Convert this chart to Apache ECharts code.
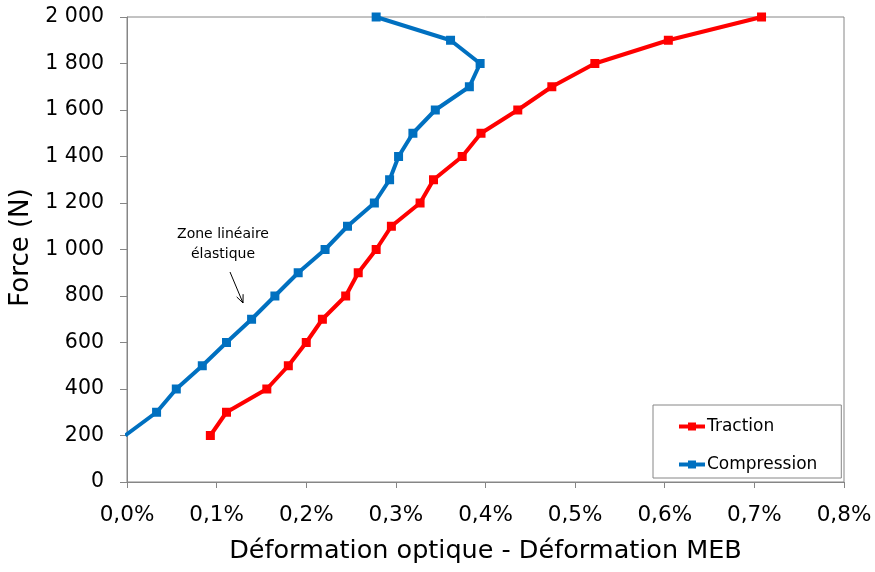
<!DOCTYPE html>
<html>
<head>
<meta charset="utf-8">
<script src="https://cdn.jsdelivr.net/npm/echarts@6/dist/echarts.min.js"></script>
<style>
    html, body { margin: 0; padding: 0; background: #fff; }
    #chart { width: 875px; height: 572px; }
</style>
</head>
<body>
<div id="chart"></div>
<script>
// Force (N) for each point, same list for both curves
var forces = [200, 300, 400, 500, 600, 700, 800, 900, 1000, 1100,
              1200, 1300, 1400, 1500, 1600, 1700, 1800, 1900, 2000];

// deformation difference in %
var traction = [0.093, 0.111, 0.156, 0.180, 0.200, 0.218, 0.244, 0.258, 0.278, 0.295,
                0.327, 0.342, 0.374, 0.395, 0.436, 0.474, 0.522, 0.604, 0.708];
var compression = [-0.002, 0.033, 0.055, 0.084, 0.111, 0.139, 0.165, 0.191, 0.221, 0.246,
                   0.276, 0.293, 0.303, 0.319, 0.344, 0.382, 0.394, 0.361, 0.278];

var seriesNames = ['Traction', 'Compression'];
var seriesColors = ['#ff0000', '#0070c0'];

function pairs(xs) {
    return xs.map(function (x, i) { return [x, forces[i]]; });
}

var axisColor = '#868686';
var font = 'DejaVu Sans';

var option = {
    backgroundColor: '#fff',
    animation: false,
    textStyle: { fontFamily: font, color: '#000' },
    grid: {
        left: 127, right: 31, top: 17, bottom: 90,
        show: true,
        borderColor: axisColor,
        borderWidth: 1
    },
    legend: {
        orient: 'vertical',
        left: 653,
        top: 405,
        padding: [13, 24, 5, 24],
        itemGap: 21,
        itemWidth: 26,
        itemHeight: 10,
        borderColor: axisColor,
        borderWidth: 1,
        backgroundColor: '#fff',
        lineStyle: { width: 4 },
        textStyle: { fontFamily: font, fontSize: 17, color: '#000', padding: [0, 0, 0, -3] },
        data: seriesNames
    },
    xAxis: {
        type: 'value',
        min: 0,
        max: 0.8,
        interval: 0.1,
        name: 'Déformation optique - Déformation MEB',
        nameLocation: 'middle',
        nameGap: 56,
        nameTextStyle: { fontFamily: font, fontSize: 25.5, color: '#000' },
        axisLine: { show: true, lineStyle: { color: axisColor, width: 1 } },
        axisTick: { show: true, length: 6, lineStyle: { color: axisColor } },
        splitLine: { show: false },
        axisLabel: {
            margin: 22,
            fontSize: 21.5,
            color: '#000',
            formatter: function (v) { return v.toFixed(1).replace('.', ',') + '%'; }
        }
    },
    yAxis: {
        type: 'value',
        min: 0,
        max: 2000,
        interval: 200,
        name: 'Force (N)',
        nameLocation: 'middle',
        nameGap: 88,
        nameTextStyle: { fontFamily: font, fontSize: 26, color: '#000', padding: [0, 0, 0, 4] },
        axisLine: { show: true, lineStyle: { color: axisColor, width: 1 } },
        axisTick: { show: true, length: 7, lineStyle: { color: axisColor } },
        splitLine: { show: false },
        axisLabel: {
            margin: 23,
            fontSize: 20.5,
            color: '#000',
            formatter: function (v) {
                return String(v).replace(/\B(?=(\d{3})+(?!\d))/g, ' ');
            }
        }
    },
    series: [0, 1].map(function (k) {
        return {
            name: seriesNames[k],
            type: 'line',
            data: pairs(k === 0 ? traction : compression),
            symbol: 'rect',
            symbolSize: 9,
            clip: true,
            color: seriesColors[k],
            itemStyle: { color: seriesColors[k] },
            lineStyle: { color: seriesColors[k], width: 4 },
            z: k === 0 ? 2 : 3
        };
    }),
    graphic: [
        {
            type: 'text',
            x: 223, y: 224,
            style: {
                text: 'Zone linéaire\nélastique',
                fontFamily: font,
                fontSize: 14,
                lineHeight: 20,
                fill: '#000',
                align: 'center',
                verticalAlign: 'top'
            }
        },
        {
            type: 'polyline',
            shape: { points: [[230, 272], [243, 303]] },
            style: { stroke: '#000', lineWidth: 1, fill: null }
        },
        {
            type: 'polyline',
            shape: { points: [[236.7, 296.9], [243, 303], [243.1, 294.2]] },
            style: { stroke: '#000', lineWidth: 1, fill: null }
        }
    ]
};

var myChart = echarts.init(document.getElementById('chart'));
myChart.setOption(option);
</script>
</body>
</html>
